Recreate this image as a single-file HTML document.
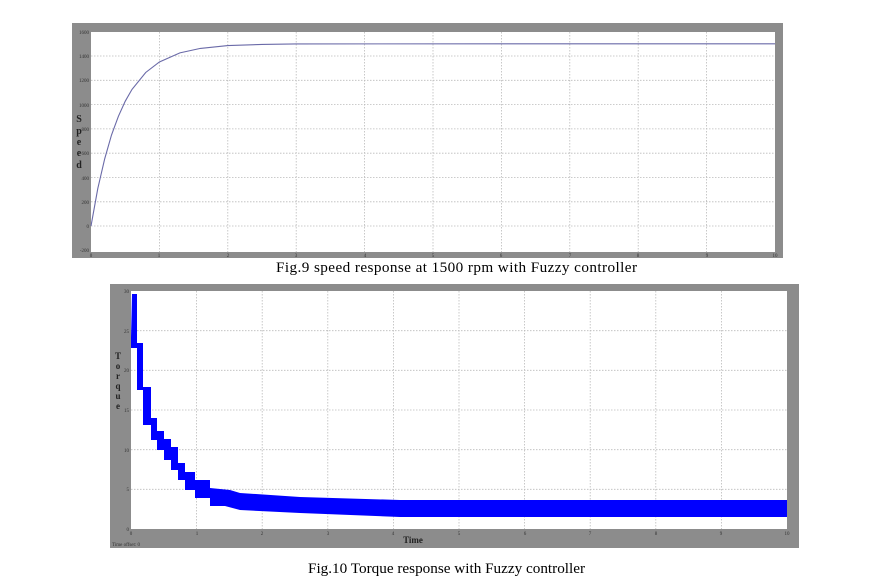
<!DOCTYPE html>
<html><head><meta charset="utf-8"><style>
html,body{margin:0;padding:0;background:#fff;}
svg{display:block;}
text{font-family:"Liberation Serif",serif;}
</style></head><body>
<svg width="881" height="584" viewBox="0 0 881 584" xmlns="http://www.w3.org/2000/svg">
<rect x="72" y="23" width="711" height="235" fill="#8c8c8c"/>
<rect x="91" y="32" width="684" height="220" fill="#fff"/>
<g stroke="#bbb" stroke-width="0.8" stroke-dasharray="1.5,1.5">
<line x1="91" y1="56" x2="775" y2="56"/><line x1="91" y1="80.3" x2="775" y2="80.3"/><line x1="91" y1="104.6" x2="775" y2="104.6"/><line x1="91" y1="128.9" x2="775" y2="128.9"/><line x1="91" y1="153.2" x2="775" y2="153.2"/><line x1="91" y1="177.5" x2="775" y2="177.5"/><line x1="91" y1="201.8" x2="775" y2="201.8"/><line x1="91" y1="226" x2="775" y2="226"/>
<line x1="159.4" y1="32" x2="159.4" y2="252"/><line x1="227.8" y1="32" x2="227.8" y2="252"/><line x1="296.2" y1="32" x2="296.2" y2="252"/><line x1="364.6" y1="32" x2="364.6" y2="252"/><line x1="433" y1="32" x2="433" y2="252"/><line x1="501.4" y1="32" x2="501.4" y2="252"/><line x1="569.8" y1="32" x2="569.8" y2="252"/><line x1="638.2" y1="32" x2="638.2" y2="252"/><line x1="706.6" y1="32" x2="706.6" y2="252"/>
</g>
<polyline fill="none" stroke="#6a6aa8" stroke-width="1.1" points="91,226 97.8,188.5 104.7,158.8 111.5,135 118.4,116.3 125.2,101.3 132,89.4 145.7,72.5 159.4,62 179.9,52.9 200.4,48.4 227.8,45.6 262,44.4 296,43.9 775,43.8"/>
<g font-size="5" fill="#333" text-anchor="end">
<text x="89" y="34">1600</text><text x="89" y="58">1400</text><text x="89" y="82">1200</text><text x="89" y="107">1000</text><text x="89" y="131">800</text><text x="89" y="155">600</text><text x="89" y="180">400</text><text x="89" y="204">200</text><text x="89" y="228">0</text><text x="89" y="252">-200</text>
</g>
<g font-size="5" fill="#333" text-anchor="middle">
<text x="91" y="257">0</text><text x="159" y="257">1</text><text x="228" y="257">2</text><text x="296" y="257">3</text><text x="365" y="257">4</text><text x="433" y="257">5</text><text x="501" y="257">6</text><text x="570" y="257">7</text><text x="638" y="257">8</text><text x="707" y="257">9</text><text x="775" y="257">10</text>
</g>
<g font-size="10" font-weight="bold" fill="#222" text-anchor="middle">
<text x="79" y="122">S</text><text x="79" y="134">p</text><text x="79" y="145">e</text><text x="79" y="156">e</text><text x="79" y="168">d</text>
</g>
<text x="276" y="272" font-size="15.2" fill="#000" textLength="361">Fig.9 speed response at 1500 rpm with Fuzzy controller</text>

<rect x="110" y="284" width="689" height="264" fill="#8c8c8c"/>
<rect x="131" y="291" width="656" height="238" fill="#fff"/>
<g stroke="#bbb" stroke-width="0.8" stroke-dasharray="1.5,1.5">
<line x1="131" y1="330.7" x2="787" y2="330.7"/><line x1="131" y1="370.3" x2="787" y2="370.3"/><line x1="131" y1="410" x2="787" y2="410"/><line x1="131" y1="449.7" x2="787" y2="449.7"/><line x1="131" y1="489.3" x2="787" y2="489.3"/>
<line x1="196.6" y1="291" x2="196.6" y2="529"/><line x1="262.2" y1="291" x2="262.2" y2="529"/><line x1="327.8" y1="291" x2="327.8" y2="529"/><line x1="393.4" y1="291" x2="393.4" y2="529"/><line x1="459" y1="291" x2="459" y2="529"/><line x1="524.6" y1="291" x2="524.6" y2="529"/><line x1="590.2" y1="291" x2="590.2" y2="529"/><line x1="655.8" y1="291" x2="655.8" y2="529"/><line x1="721.4" y1="291" x2="721.4" y2="529"/>
</g>
<polygon fill="#0000ff" points="131,337 132,294 137,294 137,343 143,343 143,387 151,387 151,418 157,418 157,431 164,431 164,439 171,439 171,447 178,447 178,463 185,463 185,472 195,472 195,480 210,480 210,488 230,490 240,493 300,497 400,500 787,500 787,517 400,517 300,513 240,510 225,506 210,506 210,498 195,498 195,490 185,490 185,480 178,480 178,470 171,470 171,460 164,460 164,450 157,450 157,440 151,440 151,425 143,425 143,390 137,390 137,348 131,348"/>
<g font-size="5" fill="#333" text-anchor="end">
<text x="129" y="293">30</text><text x="129" y="333">25</text><text x="129" y="372">20</text><text x="129" y="412">15</text><text x="129" y="452">10</text><text x="129" y="491">5</text><text x="129" y="531">0</text>
</g>
<g font-size="5" fill="#333" text-anchor="middle">
<text x="131" y="535">0</text><text x="197" y="535">1</text><text x="262" y="535">2</text><text x="328" y="535">3</text><text x="393" y="535">4</text><text x="459" y="535">5</text><text x="525" y="535">6</text><text x="590" y="535">7</text><text x="656" y="535">8</text><text x="721" y="535">9</text><text x="787" y="535">10</text>
</g>
<g font-size="9" font-weight="bold" fill="#222" text-anchor="middle">
<text x="118" y="359">T</text><text x="118" y="369">o</text><text x="118" y="379">r</text><text x="118" y="389">q</text><text x="118" y="399">u</text><text x="118" y="409">e</text>
</g>
<text x="413" y="543" font-size="9" font-weight="bold" fill="#222" text-anchor="middle">Time</text>
<text x="112" y="546" font-size="5" fill="#333">Time offset:  0</text>
<text x="308" y="573" font-size="15.2" fill="#000">Fig.10 Torque response with Fuzzy controller</text>
</svg>
</body></html>
